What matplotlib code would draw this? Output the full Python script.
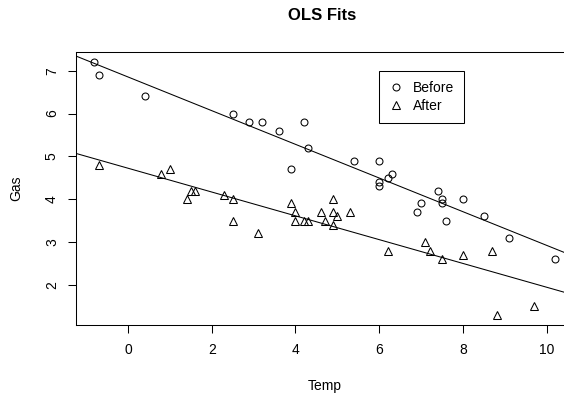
import numpy as np
import matplotlib
matplotlib.use("Agg")
import matplotlib.pyplot as plt
from matplotlib.lines import Line2D

plt.rcParams['font.family'] = ['Liberation Sans', 'DejaVu Sans']

before_temp = [-0.8, -0.7, 0.4, 2.5, 2.9, 3.2, 3.6, 3.9, 4.2, 4.3, 5.4, 6.0, 6.0, 6.0,
               6.2, 6.3, 6.9, 7.0, 7.4, 7.5, 7.5, 7.6, 8.0, 8.5, 9.1, 10.2]
before_gas = [7.2, 6.9, 6.4, 6.0, 5.8, 5.8, 5.6, 4.7, 5.8, 5.2, 4.9, 4.9, 4.3, 4.4,
              4.5, 4.6, 3.7, 3.9, 4.2, 4.0, 3.9, 3.5, 4.0, 3.6, 3.1, 2.6]
after_temp = [-0.7, 0.8, 1.0, 1.4, 1.5, 1.6, 2.3, 2.5, 2.5, 3.1, 3.9, 4.0, 4.0, 4.2, 4.3,
              4.6, 4.7, 4.9, 4.9, 4.9, 5.0, 5.3, 6.2, 7.1, 7.2, 7.5, 8.0, 8.7, 8.8, 9.7]
after_gas = [4.8, 4.6, 4.7, 4.0, 4.2, 4.2, 4.1, 4.0, 3.5, 3.2, 3.9, 3.5, 3.7, 3.5, 3.5,
             3.7, 3.5, 3.4, 3.7, 4.0, 3.6, 3.7, 2.8, 3.0, 2.8, 2.6, 2.7, 2.8, 1.3, 1.5]
x_ticks = [0, 2, 4, 6, 8, 10]
y_ticks = [2, 3, 4, 5, 6, 7]

W, H = 564, 393
fig = plt.figure(figsize=(W / 100, H / 100), dpi=100)
L, R, T, B = 76, 573.6, 52, 325
ax = fig.add_axes([L / W, 1 - B / H, (R - L) / W, (B - T) / H])

allx = before_temp + after_temp
ally = before_gas + after_gas
xr = max(allx) - min(allx)
yr = max(ally) - min(ally)
ax.set_xlim(min(allx) - 0.04 * xr, max(allx) + 0.04 * xr)
ax.set_ylim(min(ally) - 0.04 * yr, max(ally) + 0.04 * yr)

ax.plot(before_temp, before_gas, linestyle='none', marker='o', ms=5.0,
        mfc='none', mec='black', mew=0.75)
ax.plot(after_temp, after_gas, linestyle='none', marker='^', ms=6.0,
        mfc='none', mec='black', mew=0.75)

for xs, ys in ((before_temp, before_gas), (after_temp, after_gas)):
    m, b = np.polyfit(xs, ys, 1)
    ax.axline((0, b), slope=m, color='black', lw=0.75)

ax.set_xticks(x_ticks)
ax.set_yticks(y_ticks)
ax.tick_params(direction='out', length=5.8, width=0.75, labelsize=10, colors='black')
ax.tick_params(axis='x', pad=7)
ax.tick_params(axis='y', pad=6.5)
for lab in ax.get_yticklabels():
    lab.set_rotation(90)
    lab.set_va('center')
for s in ax.spines.values():
    s.set_linewidth(0.75)
    s.set_color('black')

fig.text(322 / W, 1 - 16 / H, 'OLS Fits', ha='center', va='center',
         fontsize=12, fontweight='bold')
fig.text(325 / W, 1 - 386 / H, 'Temp', ha='center', va='center', fontsize=10)
fig.text(16 / W, 1 - 188.5 / H, 'Gas', ha='center', va='center', fontsize=10,
         rotation=90)

handles = [Line2D([], [], linestyle='none', marker='o', ms=5.0, mfc='none',
                  mec='black', mew=0.75),
           Line2D([], [], linestyle='none', marker='^', ms=6.0, mfc='none',
                  mec='black', mew=0.75)]
leg = fig.legend(handles, ['Before', 'After'], loc='upper left',
                 bbox_to_anchor=(379 / W, 1 - 71 / H), bbox_transform=fig.transFigure,
                 borderaxespad=0, fancybox=False, framealpha=1, edgecolor='black',
                 fontsize=10, handlelength=1.0, handletextpad=0.75,
                 labelspacing=0.3, borderpad=0.7)
leg.get_frame().set_linewidth(0.75)

fig.savefig('out.png', dpi=100)
